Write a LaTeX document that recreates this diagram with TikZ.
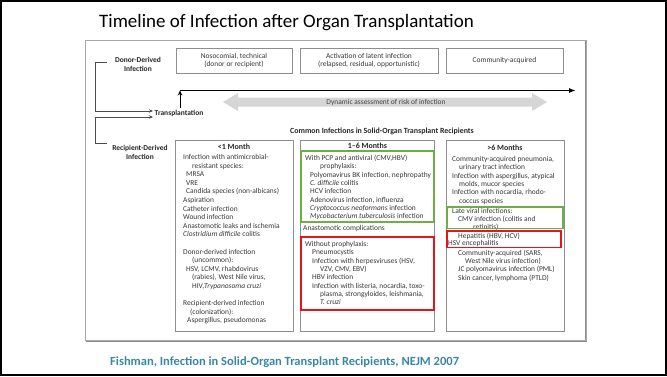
\documentclass[tikz,border=0pt]{standalone}
\usepackage{fontspec}
\setmainfont{Carlito}
\usetikzlibrary{arrows.meta}
\definecolor{txt}{HTML}{363636}
\definecolor{boxgray}{HTML}{8E8E8E}
\definecolor{framegray}{HTML}{A8A8A8}
\definecolor{gbox}{HTML}{6FAE45}
\definecolor{rbox}{HTML}{E8141B}
\definecolor{citeteal}{HTML}{3A87A5}
\definecolor{arrowgray}{HTML}{D6D6D6}
\newcommand\colblock[4]{%
  \foreach \xx/\nn/\ltext in {#4} {\node[ln, name=#1\nn] at (\xx,{#2+\nn*#3}) {\ltext};}}
\newcommand\colfree[2]{%
  \foreach \xx/\yy/\ltext [count=\nn] in {#2} {\node[ln, name=#1\nn] at (\xx,\yy) {\ltext};}}
\begin{document}
\begin{tikzpicture}[x=1pt,y=-1pt,
  every node/.style={inner sep=0pt, text=txt},
  small/.style={font=\fontsize{7.45}{8.4}\selectfont},
  ln/.style={small, anchor=base west},
  lbl/.style={font=\bfseries\fontsize{7.5}{8.8}\selectfont, align=center, text=black!85},
  hdr/.style={font=\bfseries\fontsize{7.9}{9}\selectfont, text=black!85},
  topbox/.style={draw=boxgray, line width=0.7pt, minimum height=25pt, small, align=center},
  colbox/.style={draw=boxgray, line width=0.7pt},
  brk/.style={draw=black!70, line width=0.7pt},
  brkarrow/.style={brk, -{Stealth[length=4pt,width=3.5pt]}}
  ]
\useasboundingbox (0,0) rectangle (667,376);
\draw[line width=2.4pt] (1.2,1.2) rectangle (665.8,374.8);

% title and citation
\node[font=\fontsize{19}{22}\selectfont, anchor=base west, text=black] (title) at (99,27) {Timeline of Infection after Organ Transplantation};
\node[font=\bfseries\fontsize{12.5}{14}\selectfont, text=citeteal, anchor=base west] (cite) at (110,365.5) {Fishman, Infection in Solid-Organ Transplant Recipients, NEJM 2007};

% inner frame
\draw[black!45, line width=1.4pt] (86,341) -- (586,341) -- (586,40);
\draw[framegray, line width=0.8pt] (85.5,40) rectangle (586,340.5);

% top boxes
\node[topbox, minimum width=116pt] (nos) at (234,60.5) {Nosocomial, technical\\(donor or recipient)};
\node[topbox, minimum width=138pt] (act) at (369,60.5) {Activation of latent infection\\(relapsed, residual, opportunistic)};
\node[topbox, minimum width=117pt] (com) at (504.5,60.5) {Community-acquired};

% side labels
\node[lbl] (donor) at (138,64.5) {Donor-Derived\\Infection};
\node[lbl] (recip) at (140,152.5) {Recipient-Derived\\Infection};
\node[lbl, anchor=west] (tx) at (154.5,113.5) {Transplantation};

\coordinate (d0) at (107,62);
\coordinate (d1) at (95.5,62);
\coordinate (d2) at (95.5,111);
\coordinate (d3) at (153,111);
\coordinate (r0) at (107,143);
\coordinate (r1) at (95.5,143);
\coordinate (r2) at (95.5,117);
\coordinate (r3) at (153,117);
\draw[brkarrow] (d0) -- (d1) -- (d2) -- (d3);
\draw[brkarrow] (r0) -- (r1) -- (r2) -- (r3);

% timeline
\coordinate (t0) at (180,108);
\coordinate (t1) at (180,90.5);
\coordinate (t2) at (576,90.5);
\draw[black, line width=0.9pt, -{Stealth[length=5pt,width=4.5pt]}] (t0) -- (t1);
\draw[black, line width=1.4pt, -{Latex[length=7pt,width=5pt]}] (t1) -- (t2);

% dynamic assessment double arrow
\fill[arrowgray] (223,102) -- (238,93) -- (238,97.5) -- (532,97.5) -- (532,93) -- (547,102)
  -- (532,111) -- (532,106.5) -- (238,106.5) -- (238,111) -- cycle;
\node[small, text=black!75] (dyn) at (386,102.5) {Dynamic assessment of risk of infection};

\node[hdr] (common) at (382,131) {Common Infections in Solid-Organ Transplant Recipients};

% columns
\draw[colbox] (175,140) rectangle (293,331);
\draw[colbox] (300.5,140) rectangle (434.5,331);
\draw[colbox] (446,140) rectangle (564,331);

\node[hdr] (h1) at (234,146.5) {<1 Month};
\node[hdr] (h2) at (367.5,146) {1–6 Months};
\node[hdr] (h3) at (505,148) {>6 Months};

\colblock{a}{159.5}{8.6}{183/0/{Infection with antimicrobial-}, 192/1/{resistant species:}, 186/2/{MRSA}, 186/3/{VRE}, 186/4/{Candida species (non-albicans)}, 183/5/{Aspiration}, 183/6/{Catheter infection}, 183/7/{Wound infection}, 183/8/{Anastomotic leaks and ischemia}, 183/9/{\textit{Clostridium difficile} colitis}, 183/11/{Donor-derived infection}, 192/12/{(uncommon):}, 186/13/{HSV, LCMV, rhabdovirus}, 192/14/{(rabies), West Nile virus,}, 192/15/{HIV,\textit{Trypanosoma cruzi}}, 183/17/{Recipient-derived infection}, 190/18/{(colonization):}, 187/19/{Aspergillus, pseudomonas}}

\colblock{b}{160.5}{8.3}{305/0/{With PCP and antiviral (CMV,HBV)}, 320/1/{prophylaxis:}, 310/2/{Polyomavirus BK infection, nephropathy}, 310/3/{\textit{C. difficile} colitis}, 310/4/{HCV infection}, 310/5/{Adenovirus infection, influenza}, 310/6/{\textit{Cryptococcus neoformans} infection}, 310/7/{\textit{Mycobacterium tuberculosis} infection}}
\node[ln] (anast) at (303,230.5) {Anastomotic complications};
\colblock{c}{246.5}{8.3}{305/0/{Without prophylaxis:}, 312/1/{Pneumocystis}, 312/2/{Infection with herpesviruses (HSV,}, 320/3/{VZV, CMV, EBV)}, 312/4/{HBV infection}, 312/5/{Infection with listeria, nocardia, toxo-}, 320/6/{plasma, strongyloides, leishmania,}, 320/7/{\textit{T. cruzi}}}

\colfree{d}{452/161.5/{Community-acquired pneumonia,}, 459/169.8/{urinary tract infection}, 452/178.3/{Infection with aspergillus, atypical}, 459/186.6/{molds, mucor species}, 452/194.9/{Infection with nocardia, rhodo-}, 459/203.2/{coccus species}, 452/213/{Late viral infections:}, 458/221.2/{CMV infection (colitis and}, 473/229.4/{retinitis)}, 458/238.2/{Hepatitis (HBV, HCV)}, 448/245.4/{HSV encephalitis}, 458/255.2/{Community-acquired (SARS,}, 465/263.4/{West Nile virus infection)}, 458/271.8/{JC polyomavirus infection (PML)}, 458/280.2/{Skin cancer, lymphoma (PTLD)}}

% highlight boxes
\draw[gbox, line width=1.2pt] (301,151) rectangle (434,222);
\draw[rbox, line width=1.3pt] (301,237) rectangle (434,310);
\draw[gbox, line width=1.2pt] (447,207) rectangle (563,228.5);
\draw[rbox, line width=1.3pt] (447,231) rectangle (561,247.5);
\end{tikzpicture}
\end{document}
